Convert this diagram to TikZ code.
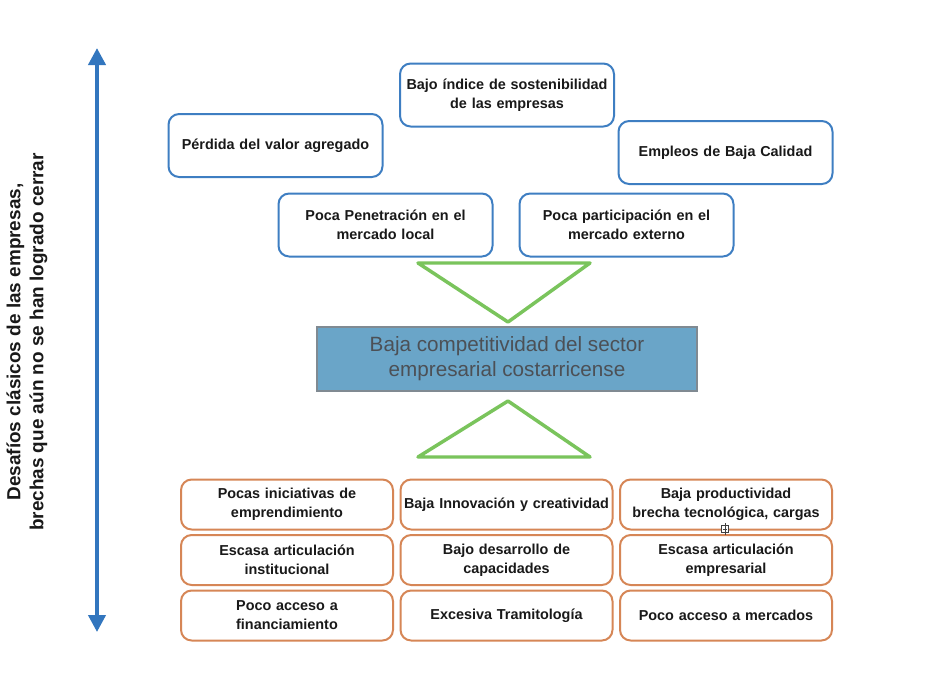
\documentclass[tikz,border=0pt]{standalone}
\usepackage{fontspec}
\setmainfont{Liberation Sans}
\usepackage{xcolor}
\usetikzlibrary{arrows.meta}

\definecolor{effectblue}{RGB}{62,126,194}
\definecolor{causeorange}{RGB}{214,134,86}
\definecolor{leafgreen}{RGB}{122,196,92}
\definecolor{corefill}{RGB}{106,165,200}
\definecolor{coreedge}{RGB}{128,138,146}
\definecolor{coretext}{RGB}{76,80,86}
\definecolor{gapblue}{RGB}{50,118,190}

\begin{document}
\begin{tikzpicture}[x=0.75pt,y=0.75pt,yscale=-1,xscale=1,
  effect/.style={draw=effectblue, line width=1.5pt, rounded corners=8pt, fill=white,
    text width=156pt, inner xsep=2.25pt, minimum height=47.25pt, align=center,
    font=\fontsize{10.8}{14.5}\selectfont\bfseries, text=black!90},
  cause/.style={draw=causeorange, line width=1.5pt, rounded corners=8pt, fill=white,
    text width=155pt, inner xsep=2pt, minimum height=37.5pt, align=center,
    font=\fontsize{10.8}{14.3}\selectfont\bfseries, text=black!90},
  core/.style={draw=coreedge, line width=1.2pt, fill=corefill, text=coretext,
    minimum width=285pt, minimum height=48pt, align=center,
    font=\fontsize{15.5}{18.75}\selectfont},
  wedge/.style={draw=leafgreen, line width=2.6pt, line join=round},
  gaparrow/.style={draw=gapblue, line width=3pt,
    {Triangle[length=12.75pt,width=12.75pt]}-{Triangle[length=12.75pt,width=12.75pt]}}]
%set diagram to 932 x 676
\fill[white] (0,0) rectangle (932,676);
\useasboundingbox (0,0) rectangle (932,676);

%Shape: Triangle, effects down to core
\draw[wedge] (418,263) -- (590,263) -- (508,322) -- cycle;
%Shape: Triangle, causes up to core
\draw[wedge] (508,401) -- (590,457) -- (418,457) -- cycle;

% Text Node: effects
\node[effect] (sostenibilidad) at (507,95) {Bajo índice de sostenibilidad\\de las empresas};
\node[effect] (valor) at (275.5,145.5) {Pérdida del valor agregado};
\node[effect] (empleos) at (725.5,152.5) {Empleos de Baja Calidad};
\node[effect] (penetracion) at (385.5,225) {Poca Penetración en el\\mercado local};
\node[effect] (externo) at (626.5,225) {Poca participación en el\\mercado externo};

% Text Node: core problem
\node[core] (core) at (507,359) {Baja competitividad del sector\\empresarial costarricense};

% Text Node: causes
\node[cause] (emprend) at (287,504.5) {Pocas iniciativas de\\emprendimiento};
\node[cause] (innov) at (506.5,504.5) {Baja Innovación y creatividad};
\node[cause] (product) at (726,504.5) {Baja productividad\\brecha tecnológica, cargas};
\node[cause] (artinst) at (287,560) {Escasa articulación\\institucional};
\node[cause] (capac) at (506.5,560) {Bajo desarrollo de\\capacidades};
\node[cause] (artemp) at (726,560) {Escasa articulación\\empresarial};
\node[cause] (financ) at (287,615.5) {Poco acceso a\\financiamiento};
\node[cause] (tramit) at (506.5,615.5) {Excesiva Tramitología};
\node[cause] (mercados) at (726,615.5) {Poco acceso a mercados};

%Shape: small plus box
\node[draw=black!75, fill=white, line width=0.4pt, minimum size=5.5pt, inner sep=0pt] (plusmark) at (725,529) {};
\draw[line width=0.4pt, black!75] ([yshift=-1.2pt]plusmark.north) -- ([yshift=1.2pt]plusmark.south);
\draw[line width=0.4pt, black!75] ([xshift=1.2pt]plusmark.west) -- ([xshift=-1.2pt]plusmark.east);

%Straight Lines: double arrow
\coordinate (gaptop) at (97,48);
\coordinate (gapbottom) at (97,632);
\draw[gaparrow] (gaptop) -- (gapbottom);

% Text Node: side label
\node[rotate=90, align=center, font=\fontsize{14.2}{17.25}\selectfont\bfseries, text=black!90] (gaplabel) at (27,342) {Desafíos clásicos de las empresas,\\brechas que aún no se han logrado cerrar};

\end{tikzpicture}
\end{document}
